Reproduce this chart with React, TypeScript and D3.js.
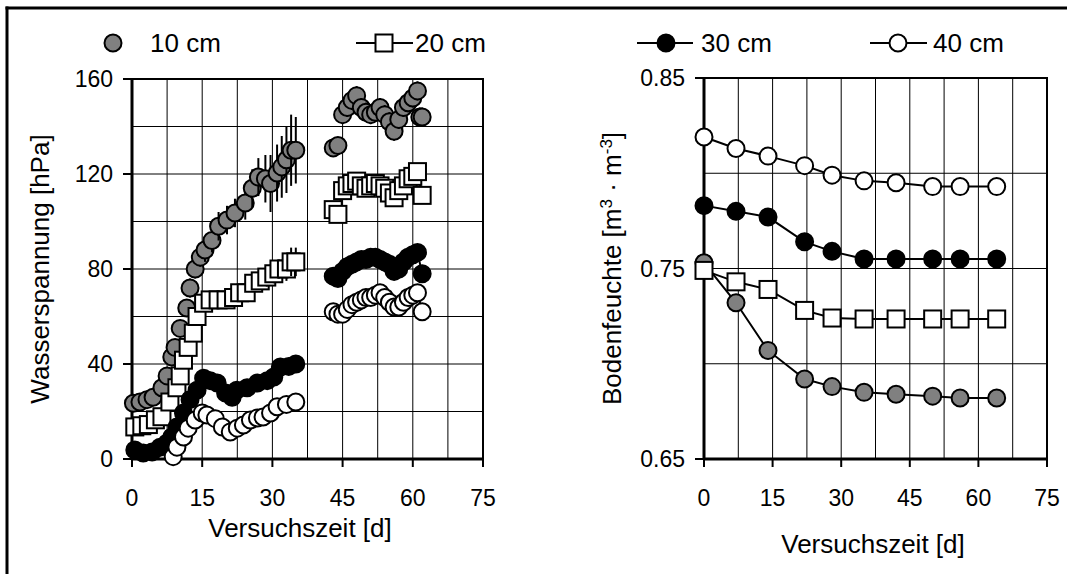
import React from "react";
import * as d3 from "d3";

// ---------- data ----------
const seriesNames = ["10 cm", "20 cm", "30 cm", "40 cm"];

// Left panel: Wasserspannung [hPa]
const days10a = [0.3, 1.7, 3.2, 4.5, 6.4, 7.5, 8.5, 9.2, 10.3, 11.7, 12.4, 13.5, 14.6, 15.6, 17.1, 18.5, 20.3, 22, 24.2, 25.7, 27, 28.5, 29.6, 31, 32, 33, 34, 35];
const vals10a = [23.5, 24, 25, 26, 30, 35, 43, 47, 55, 63.6, 72, 80, 85, 88, 92, 98, 100.6, 103.6, 107.8, 114, 118.7, 118, 116, 120.4, 123, 126, 130, 130];
const err10a = [2, 2, 2, 2, 2, 3, 3, 3, 3, 3, 4, 4, 4, 5, 5, 6, 6, 6, 7, 8, 8, 10, 12, 12, 13, 14, 15, 14];

const days10b = [43, 44, 45, 46, 47, 48, 49, 50, 51, 52, 53, 54, 55, 56, 57, 58, 59, 60, 61, 61.5, 62];
const vals10b = [131, 132, 145, 148, 151, 153, 148, 146, 145, 146, 148, 145, 142, 138, 143, 148, 150, 152, 155, 144, 144];
const err10b = [3, 3, 4, 4, 4, 4, 4, 4, 4, 4, 4, 4, 4, 4, 4, 4, 4, 4, 4, 4, 4];

const days20a = [0.6, 2.1, 3.5, 5, 6.4, 8.1, 9.6, 10.3, 11, 12, 13.1, 13.9, 15.3, 16.7, 18.4, 20.1, 21.7, 23, 24.4, 26, 27.4, 28.8, 30.3, 31.4, 33, 34, 35];
const vals20a = [13.5, 14, 14.5, 16.5, 17.8, 24, 30, 35, 41.6, 47, 53, 60, 65.6, 67, 67, 67, 68, 70, 70, 74, 75, 76.6, 78, 80, 80, 83, 83];
const err20a = [2, 2, 2, 2, 2, 2, 2, 2, 2, 2, 2, 2, 3, 3, 3, 3, 3, 3, 3, 3, 3, 4, 4, 4, 5, 6, 6];

const days20b = [43, 44, 45, 46, 47, 48, 49, 50, 51, 52, 53, 54, 55, 56, 57, 58, 59, 60, 61, 62];
const vals20b = [105, 103, 113, 115, 116, 117, 115, 114, 115, 116, 115, 114, 112, 110, 113, 115, 118, 119, 121, 111];
const err20b = [2, 2, 2, 2, 2, 2, 2, 2, 2, 2, 2, 2, 2, 2, 2, 2, 2, 2, 2, 2];

const days30a = [0.6, 2.4, 4.3, 6, 7.5, 8.5, 9.6, 11, 12.4, 13.9, 15.3, 16.7, 18.2, 20, 21.4, 22.4, 24.6, 26.8, 28.9, 30.3, 31.7, 33.5, 35];
const vals30a = [3.8, 2.5, 3, 5, 6.7, 9.3, 13.5, 19.4, 25, 29, 34, 33, 32, 27.8, 26, 29, 30, 32, 33, 34.5, 38.7, 39, 40];

const days30b = [43, 44, 45, 46, 47, 48, 49, 50, 51, 52, 53, 54, 55, 56, 57, 58, 59, 60, 61, 62];
const vals30b = [77, 76, 79, 81, 82, 83, 84, 84, 85, 85, 84, 83, 82, 79, 80, 83, 85, 86, 87, 78];

const days40a = [8.8, 9.6, 11, 12, 13.5, 15, 16, 17.8, 19.3, 21, 22.5, 23.8, 25.3, 26.8, 28, 29.6, 31, 33, 35];
const vals40a = [1, 5, 9.3, 13, 16.4, 19.4, 18.5, 17, 13.5, 11.4, 13, 14.3, 16.4, 17.3, 17.7, 19.4, 22, 23, 24];

const days40b = [43, 44, 45, 46, 47, 48, 49, 50, 51, 52, 53, 54, 55, 56, 57, 58, 59, 60, 61, 62];
const vals40b = [62, 61, 61, 63, 65, 66, 67, 68, 68, 69, 70, 68, 66, 64, 64, 66, 68, 69, 70, 62];

// Right panel: Bodenfeuchte [m3 m-3]
const daysR = [0, 7, 14, 22, 28, 35, 42, 50, 56, 64];
const moist10 = [0.753, 0.732, 0.707, 0.692, 0.688, 0.685, 0.684, 0.683, 0.682, 0.682];
const moist20 = [0.749, 0.743, 0.739, 0.728, 0.724, 0.7235, 0.7235, 0.7235, 0.7235, 0.7235];
const moist30 = [0.783, 0.78, 0.777, 0.764, 0.759, 0.755, 0.755, 0.755, 0.755, 0.755];
const moist40 = [0.819, 0.813, 0.809, 0.804, 0.799, 0.796, 0.795, 0.793, 0.793, 0.793];

const xTicks = [0, 15, 30, 45, 60, 75];
const yTicksL = [0, 40, 80, 120, 160];
const yTicksR = [0.65, 0.75, 0.85];

// ---------- styles ----------
const FONT = "'Liberation Sans', Arial, Helvetica, sans-serif";
const FS = 23; // tick labels
const FT = 26; // titles, legend
const R = 8.5;
const GRAY = "#808080";

type Pt = { d: number; v: number; e?: number };
const zip = (ds: number[], vs: number[], es?: number[]): Pt[] =>
  ds.map((d, i) => ({ d, v: vs[i], e: es ? es[i] : undefined }));

function Marker({ kind, x, y }: { kind: string; x: number; y: number }) {
  if (kind === "square")
    return <rect x={x - R} y={y - R} width={2 * R} height={2 * R} fill="#fff" stroke="#000" strokeWidth={2} />;
  const fill = kind === "gray" ? GRAY : kind === "black" ? "#000" : "#fff";
  return <circle cx={x} cy={y} r={R} fill={fill} stroke="#000" strokeWidth={2} />;
}

const kinds = ["gray", "square", "black", "open"];

export default function App() {
  // left panel scales
  const xL = d3.scaleLinear().domain([0, 75]).range([132, 483]);
  const yL = d3.scaleLinear().domain([0, 160]).range([459, 79]);
  // right panel scales
  const xR = d3.scaleLinear().domain([0, 75]).range([704, 1047]);
  const yR = d3.scaleLinear().domain([0.65, 0.85]).range([459, 78]);

  const gridX = d3.range(0, 75.01, 7.5);
  const gridYL = d3.range(0, 160.01, 20);
  const gridYR = [0.7, 0.75, 0.8];

  const leftSeries: Pt[][][] = [
    [zip(days10a, vals10a, err10a), zip(days10b, vals10b, err10b)],
    [zip(days20a, vals20a, err20a), zip(days20b, vals20b, err20b)],
    [zip(days30a, vals30a), zip(days30b, vals30b)],
    [zip(days40a, vals40a), zip(days40b, vals40b)],
  ];
  const rightSeries = [moist10, moist20, moist30, moist40];

  const lineL = d3.line<Pt>().x((p) => xL(p.d)).y((p) => yL(p.v));
  const lineR = d3.line<number>().x((_, i) => xR(daysR[i])).y((v) => yR(v));

  return (
    <svg width={1067} height={574} style={{ position: "absolute", left: 0, top: 0, background: "#fff" }} fontFamily={FONT}>
      <rect x={0} y={0} width={1067} height={574} fill="#fff" />
      {/* outer frame */}
      <line x1={5.5} y1={8} x2={1067} y2={8} stroke="#000" strokeWidth={3} />
      <line x1={7} y1={6.5} x2={7} y2={574} stroke="#000" strokeWidth={3} />

      {/* ---------- LEFT PANEL ---------- */}
      <g>
        {gridX.map((g) => (
          <line key={"gxl" + g} x1={xL(g)} x2={xL(g)} y1={yL(0)} y2={yL(160)} stroke="#000" strokeWidth={1} />
        ))}
        {gridYL.map((g) => (
          <line key={"gyl" + g} x1={xL(0)} x2={xL(75)} y1={yL(g)} y2={yL(g)} stroke="#000" strokeWidth={1} />
        ))}
        <rect x={xL(0)} y={yL(160)} width={xL(75) - xL(0)} height={yL(0) - yL(160)} fill="none" stroke="#000" strokeWidth={2} />
        <line x1={xL(0)} x2={xL(0)} y1={yL(0)} y2={yL(160)} stroke="#000" strokeWidth={3} />
        <line x1={xL(0)} x2={xL(75)} y1={yL(0)} y2={yL(0)} stroke="#000" strokeWidth={3} />
        {xTicks.map((t) => (
          <g key={"xtl" + t}>
            <line x1={xL(t)} x2={xL(t)} y1={yL(0)} y2={yL(0) + 8} stroke="#000" strokeWidth={2} />
            <text x={xL(t)} y={yL(0) + 47} textAnchor="middle" fontSize={FS}>{t}</text>
          </g>
        ))}
        {yTicksL.map((t) => (
          <g key={"ytl" + t}>
            <line x1={xL(0) - 9} x2={xL(0)} y1={yL(t)} y2={yL(t)} stroke="#000" strokeWidth={2} />
            <text x={xL(0) - 19} y={yL(t) + 8} textAnchor="end" fontSize={FS}>{t}</text>
          </g>
        ))}
        <text x={300} y={537} textAnchor="middle" fontSize={FT}>Versuchszeit [d]</text>
        <text transform={`translate(49,${(yL(0) + yL(160)) / 2}) rotate(-90)`} textAnchor="middle" fontSize={FT}>Wasserspannung [hPa]</text>

        {/* lines (20, 30, 40 cm) */}
        {leftSeries.map((segs, si) =>
          si === 0
            ? null
            : segs.map((seg, k) => (
                <path key={"ll" + si + k} d={lineL(seg) || ""} fill="none" stroke="#000" strokeWidth={2} />
              ))
        )}
        {/* series with error bars and markers */}
        {leftSeries.map((segs, si) => (
          <g key={"ls" + si}>
            {segs.map((seg, k) =>
              seg.map((p, i) => (
                <g key={"p" + k + "_" + i}>
                  {p.e !== undefined && (
                    <line x1={xL(p.d)} x2={xL(p.d)} y1={yL(p.v - p.e)} y2={yL(p.v + p.e)} stroke="#000" strokeWidth={2} />
                  )}
                  <Marker kind={kinds[si]} x={xL(p.d)} y={yL(p.v)} />
                </g>
              ))
            )}
          </g>
        ))}

        {/* legend left */}
        <Marker kind="gray" x={113} y={43} />
        <text x={150} y={52} fontSize={FT}>{seriesNames[0]}</text>
        <line x1={356} x2={413} y1={43} y2={43} stroke="#000" strokeWidth={2} />
        <Marker kind="square" x={384} y={43} />
        <text x={415} y={52} fontSize={FT}>{seriesNames[1]}</text>
      </g>

      {/* ---------- RIGHT PANEL ---------- */}
      <g>
        {gridX.map((g) => (
          <line key={"gxr" + g} x1={xR(g)} x2={xR(g)} y1={yR(0.65)} y2={yR(0.85)} stroke="#000" strokeWidth={1} />
        ))}
        {gridYR.map((g) => (
          <line key={"gyr" + g} x1={xR(0)} x2={xR(75)} y1={yR(g)} y2={yR(g)} stroke="#000" strokeWidth={1} />
        ))}
        <rect x={xR(0)} y={yR(0.85)} width={xR(75) - xR(0)} height={yR(0.65) - yR(0.85)} fill="none" stroke="#000" strokeWidth={2} />
        <line x1={xR(0)} x2={xR(0)} y1={yR(0.65)} y2={yR(0.85)} stroke="#000" strokeWidth={3} />
        <line x1={xR(0)} x2={xR(75)} y1={yR(0.65)} y2={yR(0.65)} stroke="#000" strokeWidth={3} />
        {xTicks.map((t) => (
          <g key={"xtr" + t}>
            <line x1={xR(t)} x2={xR(t)} y1={yR(0.65)} y2={yR(0.65) + 8} stroke="#000" strokeWidth={2} />
            <text x={xR(t)} y={yR(0.65) + 47} textAnchor="middle" fontSize={FS}>{t}</text>
          </g>
        ))}
        {yTicksR.map((t) => (
          <g key={"ytr" + t}>
            <line x1={xR(0) - 9} x2={xR(0)} y1={yR(t)} y2={yR(t)} stroke="#000" strokeWidth={2} />
            <text x={xR(0) - 19} y={yR(t) + 8} textAnchor="end" fontSize={FS}>{t.toFixed(2)}</text>
          </g>
        ))}
        <text x={873} y={553} textAnchor="middle" fontSize={FT}>Versuchszeit [d]</text>
        <text transform={`translate(621,${(yR(0.65) + yR(0.85)) / 2}) rotate(-90)`} textAnchor="middle" fontSize={FT}>
          Bodenfeuchte [m<tspan dy={-9} fontSize={17}>3</tspan><tspan dy={9}> · m</tspan><tspan dy={-9} fontSize={17}>-3</tspan><tspan dy={9}>]</tspan>
        </text>

        {rightSeries.map((vals, si) => (
          <g key={"rs" + si}>
            <path d={lineR(vals) || ""} fill="none" stroke="#000" strokeWidth={2} />
            {vals.map((v, i) => (
              <Marker key={i} kind={kinds[si]} x={xR(daysR[i])} y={yR(v)} />
            ))}
          </g>
        ))}

        {/* legend right */}
        <line x1={637} x2={693} y1={43} y2={43} stroke="#000" strokeWidth={2} />
        <Marker kind="black" x={666} y={43} />
        <text x={701} y={52} fontSize={FT}>{seriesNames[2]}</text>
        <line x1={870} x2={927} y1={43} y2={43} stroke="#000" strokeWidth={2} />
        <Marker kind="open" x={898} y={43} />
        <text x={933} y={52} fontSize={FT}>{seriesNames[3]}</text>
      </g>
    </svg>
  );
}
